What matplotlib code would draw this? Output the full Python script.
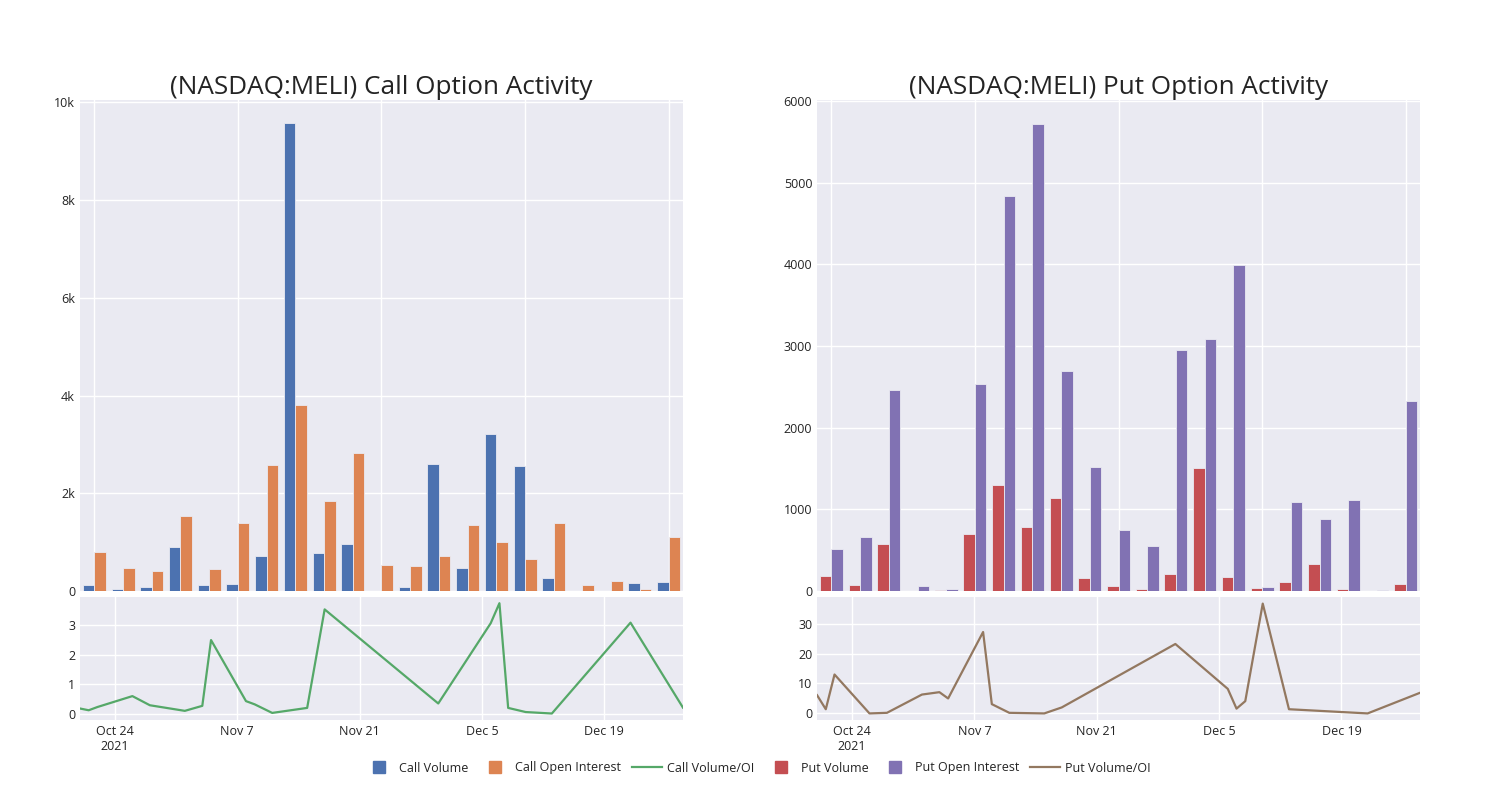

# Import the library
import pandas as pd
import matplotlib.pyplot as plt
from matplotlib.lines import Line2D
from matplotlib.ticker import FuncFormatter


# Dates of the option activity (one per bar pair / line point)
dates = ["2021-10-20", "2021-10-21", "2021-10-22", "2021-10-26", "2021-10-28",
         "2021-11-01", "2021-11-03", "2021-11-04", "2021-11-08", "2021-11-09",
         "2021-11-11", "2021-11-15", "2021-11-17", "2021-11-30", "2021-12-06",
         "2021-12-07", "2021-12-08", "2021-12-10", "2021-12-13", "2021-12-22",
         "2021-12-28"]

# Call side values
call_volume = [125, 50, 80, 910, 125, 150, 720, 9570, 780, 970, 10,
               90, 2600, 465, 3220, 2555, 275, 5, 0, 165, 190]
call_oi = [790, 480, 410, 1540, 460, 1400, 2570, 3800, 1850, 2830, 530,
           505, 720, 1350, 1005, 665, 1400, 115, 205, 50, 1110]
call_ratio = [0.17, 0.11, 0.22, 0.59, 0.28, 0.09, 0.26, 2.49, 0.42, 0.31, 0.02,
              0.19, 3.53, 0.34, 3.06, 3.74, 0.19, 0.05, 0.0, 3.08, 0.2]

# Put side values
put_volume = [183, 77, 579, 3, 8, 701, 1296, 779, 1137, 159, 61,
              20, 212, 1504, 171, 37, 110, 334, 29, 0, 86]
put_oi = [514, 660, 2458, 57, 20, 2532, 4831, 5720, 2695, 1521, 746,
          550, 2956, 3090, 3991, 49, 1084, 880, 1113, 8, 2328]
put_ratio = [6.1, 1.4, 13.0, 0.0, 0.2, 6.3, 7.1, 5.0, 27.2, 3.1, 0.2,
             0.0, 2.0, 23.2, 8.2, 1.6, 4.1, 36.7, 1.4, 0.0, 6.9]

# Tick labels for the date axis
date_ticks = ["2021-10-24", "2021-11-07", "2021-11-21", "2021-12-05", "2021-12-19"]
date_tick_labels = ["Oct 24\n2021", "Nov 7", "Nov 21", "Dec 5", "Dec 19"]

dates = pd.to_datetime(dates)
date_ticks = pd.to_datetime(date_ticks)

# Colors (seaborn deep palette)
BLUE, ORANGE, GREEN = "#4C72B0", "#DD8452", "#55A868"
RED, PURPLE, BROWN = "#C44E52", "#8172B3", "#937860"
BG = "#EAEAF2"
TXT = "#242424"

plt.rcParams["font.family"] = ["Open Sans", "DejaVu Sans"]
plt.rcParams["text.color"] = TXT
plt.rcParams["xtick.color"] = TXT
plt.rcParams["ytick.color"] = TXT

fig = plt.figure(figsize=(15, 8), dpi=100)


def style_axes(ax):
    ax.set_facecolor(BG)
    for s in ax.spines.values():
        s.set_visible(False)
    ax.grid(True, color="white", linewidth=1)
    ax.set_axisbelow(True)
    ax.tick_params(length=0, labelsize=9)


def k_fmt(v, pos):
    if v == 0:
        return "0"
    return "%dk" % round(v / 1000)


def draw_panel(left, title, vol, oi, ratio, c1, c2, c3, ymax, ytick_fmt, lim2, yticks2):
    width = 0.402
    ax1 = fig.add_axes([left, 0.26125, width, 0.61375])
    ax2 = fig.add_axes([left, 0.1, width, 0.15375])
    style_axes(ax1)
    style_axes(ax2)

    # bars on a category axis
    x = list(range(len(vol)))
    ax1.bar([i - 0.2 for i in x], vol, width=0.4, color=c1, edgecolor=BG, linewidth=0.6)
    ax1.bar([i + 0.2 for i in x], oi, width=0.4, color=c2, edgecolor=BG, linewidth=0.6)
    ax1.set_xlim(-0.5, len(vol) - 0.5)
    ax1.set_ylim(0, ymax)
    ax1.set_xticks([0, 5, 10, 15, 20])
    ax1.set_xticklabels([])
    if ytick_fmt is not None:
        ax1.yaxis.set_major_formatter(FuncFormatter(ytick_fmt))
    ax1.set_title(title, fontsize=18.8, pad=4)

    # ratio line on a date axis
    ax2.plot(dates, ratio, color=c3, linewidth=1.6)
    ax2.set_xlim(dates[0], dates[-1])
    ax2.set_ylim(*lim2)
    ax2.set_yticks(yticks2)
    ax2.set_xticks(date_ticks)
    ax2.set_xticklabels(date_tick_labels)
    return ax1, ax2


draw_panel(0.0533, "(NASDAQ:MELI) Call Option Activity", call_volume, call_oi, call_ratio,
           BLUE, ORANGE, GREEN, 10050, k_fmt, (-0.22, 3.95), [0, 1, 2, 3])
draw_panel(0.5447, "(NASDAQ:MELI) Put Option Activity", put_volume, put_oi, put_ratio,
           RED, PURPLE, BROWN, 6010, None, (-2.2, 38.9), [0, 10, 20, 30])

# Legend at the bottom: small squares for the bars, lines for the ratios
def sq(c, name):
    return Line2D([], [], linestyle="none", marker="s", markersize=8,
                  markerfacecolor=c, markeredgecolor=c, label=name)


handles = [
    sq(BLUE, "Call Volume"),
    sq(ORANGE, "Call Open Interest"),
    Line2D([], [], color=GREEN, linewidth=1.6, label="Call Volume/OI"),
    sq(RED, "Put Volume"),
    sq(PURPLE, "Put Open Interest"),
    Line2D([], [], color=BROWN, linewidth=1.6, label="Put Volume/OI"),
]
fig.legend(handles=handles, loc="center", bbox_to_anchor=(0.505, 0.04), ncol=6,
           frameon=False, fontsize=9, handlelength=2.4, handleheight=0.9,
           columnspacing=0.9, handletextpad=0.4)

plt.savefig("out.png", dpi=100)
